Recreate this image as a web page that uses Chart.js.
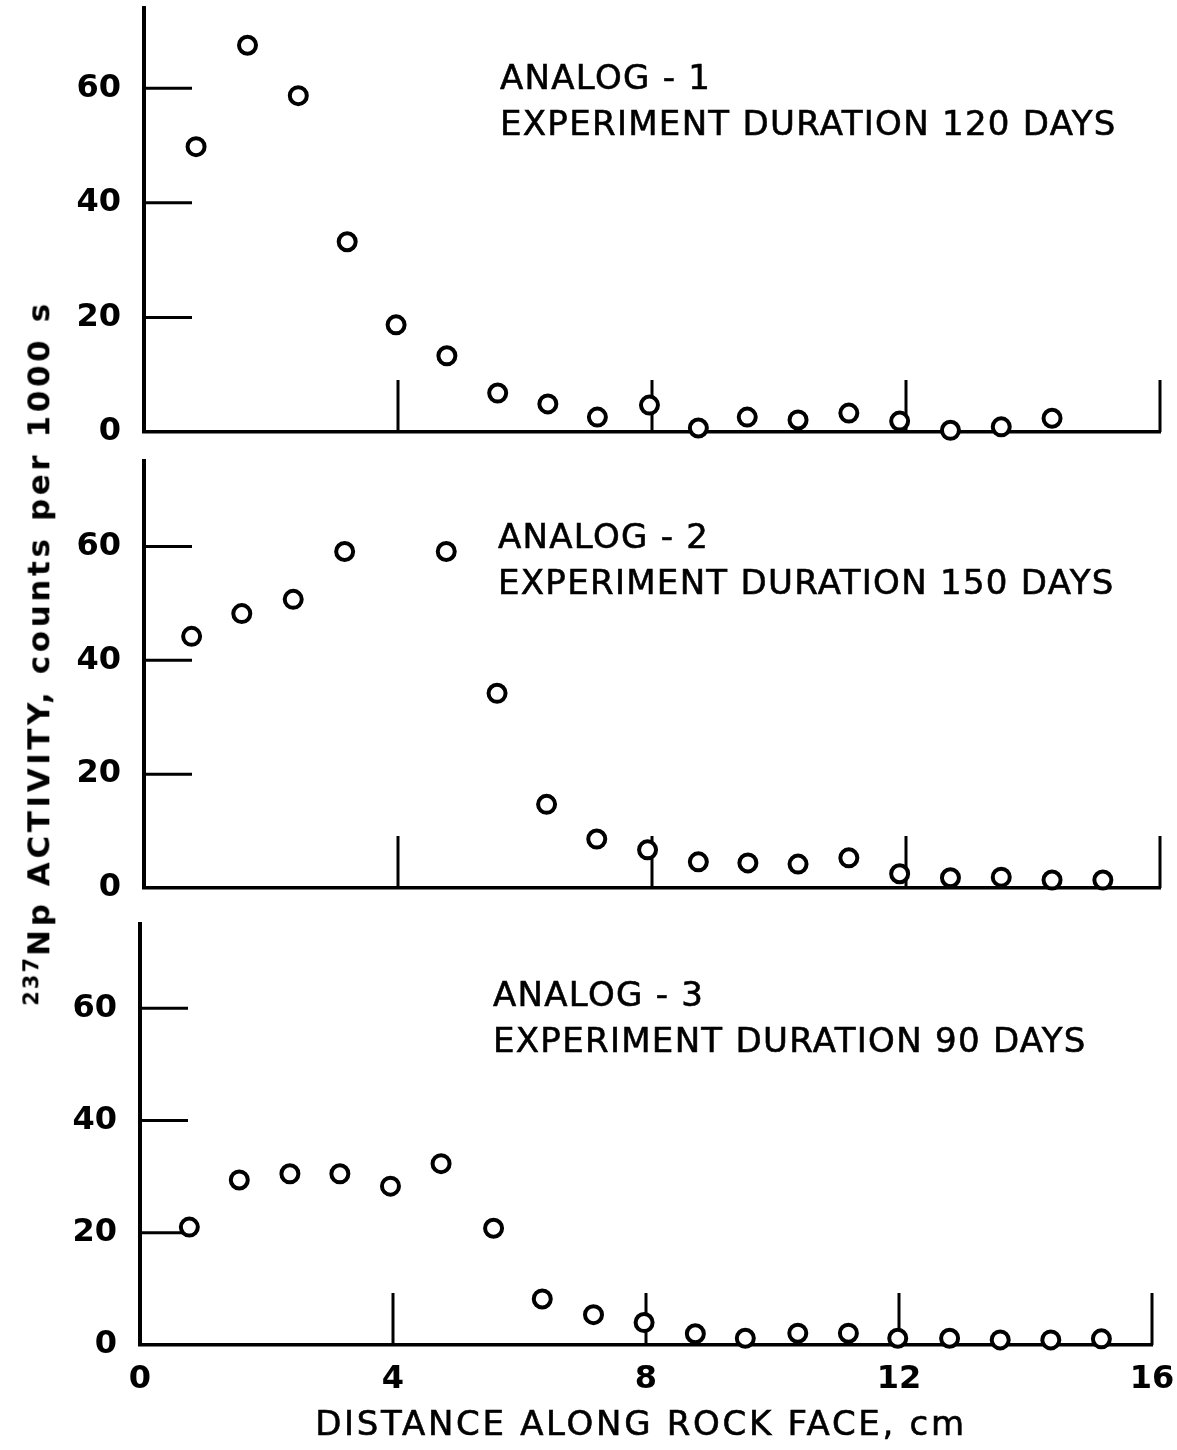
<!DOCTYPE html>
<html>
<head>
<meta charset="utf-8">
<script src="https://cdn.jsdelivr.net/npm/chart.js@4.4.0/dist/chart.umd.min.js"></script>
<style>
  body { margin: 0; background: #fff; }
  #wrap { position: relative; width: 1177px; height: 1450px; overflow: hidden; background: #fff; }
  canvas { position: absolute; left: 0; }
  .note { position: absolute; font-family: 'DejaVu Sans', sans-serif; font-size: 34px; line-height: 46px;
          letter-spacing: 1.3px; -webkit-text-stroke: 0.6px #000; color: #000; white-space: nowrap; }
  #ytitle { position: absolute; left: 38px; top: 653px; transform: translate(-50%, -50%) rotate(-90deg);
            font-family: 'DejaVu Sans', sans-serif; font-weight: bold; font-size: 31px; letter-spacing: 3.6px; white-space: nowrap; color: #000; }
  #ytitle sup { font-size: 21px; letter-spacing: 2px; }
  #xtitle { position: absolute; left: 641px; top: 1423px; transform: translate(-50%, -50%);
            font-family: 'DejaVu Sans', sans-serif; font-size: 34px; letter-spacing: 2.7px; -webkit-text-stroke: 0.6px #000;
            white-space: nowrap; color: #000; }
</style>
</head>
<body>
<div id="wrap">
  <canvas id="panel1" width="1177" height="530" style="top:-40px"></canvas>
  <canvas id="panel2" width="1177" height="540" style="top:410px"></canvas>
  <canvas id="panel3" width="1200" height="580" style="top:870px"></canvas>

  <div class="note" style="left:500px; top:54px">ANALOG - 1<br>EXPERIMENT DURATION 120 DAYS</div>
  <div class="note" style="left:498px; top:513px">ANALOG - 2<br>EXPERIMENT DURATION 150 DAYS</div>
  <div class="note" style="left:493px; top:971px">ANALOG - 3<br>EXPERIMENT DURATION 90 DAYS</div>

  <div id="ytitle"><sup>237</sup>Np ACTIVITY, counts per 1000 s</div>
  <div id="xtitle">DISTANCE ALONG ROCK FACE, cm</div>
</div>

<script>
// tick marks
const xTicks = [0, 4, 8, 12, 16];
const yTicks = [0, 20, 40, 60];

// Analog-1, 120 days
const distance1 = [0.82, 1.63, 2.43, 3.2, 3.97, 4.77, 5.57, 6.36, 7.14, 7.96, 8.73, 9.5, 10.3, 11.1, 11.9, 12.7, 13.5, 14.3];
const activity1 = [49.8, 67.5, 58.7, 33.2, 18.7, 13.3, 6.8, 4.9, 2.6, 4.7, 0.7, 2.6, 2.1, 3.3, 1.9, 0.3, 0.9, 2.4];

// Analog-2, 150 days
const distance2 = [0.75, 1.54, 2.35, 3.16, 4.76, 5.56, 6.34, 7.13, 7.93, 8.73, 9.51, 10.3, 11.1, 11.9, 12.7, 13.5, 14.3, 15.1];
const activity2 = [44.2, 48.2, 50.7, 59.1, 59.1, 34.2, 14.7, 8.6, 6.7, 4.6, 4.4, 4.2, 5.3, 2.5, 1.8, 1.9, 1.4, 1.4];

// Analog-3, 90 days
const distance3 = [0.78, 1.57, 2.37, 3.16, 3.96, 4.76, 5.59, 6.36, 7.17, 7.97, 8.78, 9.57, 10.4, 11.2, 11.98, 12.8, 13.6, 14.4, 15.2];
const activity3 = [21.0, 29.4, 30.5, 30.5, 28.3, 32.3, 20.8, 8.2, 5.4, 4.0, 2.0, 1.2, 2.1, 2.1, 1.2, 1.2, 0.9, 0.9, 1.1];

// short tick lines drawn inside the plot, like on the original figure
const inwardTicks = {
    id: 'inwardTicks',
    beforeDatasetsDraw(chart) {
        const { ctx, chartArea, scales } = chart;
        ctx.save();
        ctx.strokeStyle = '#000';
        ctx.lineWidth = 3;
        ctx.lineCap = 'butt';
        yTicks.forEach(v => {
            if (v === 0) return;
            const y = scales.y.getPixelForValue(v);
            ctx.beginPath();
            ctx.moveTo(chartArea.left, y);
            ctx.lineTo(chartArea.left + 48, y);
            ctx.stroke();
        });
        xTicks.forEach(v => {
            if (v === 0) return;
            const x = scales.x.getPixelForValue(v);
            ctx.beginPath();
            ctx.moveTo(x, chartArea.bottom);
            ctx.lineTo(x, chartArea.bottom - 52);
            ctx.stroke();
        });
        ctx.restore();
    }
};

function crearPanel(id, xs, ys, yMax, cfg) {
    const puntos = xs.map((x, i) => ({ x: x, y: ys[i] }));
    const ejeX = {
        type: 'linear',
        min: 0,
        max: 16,
        afterBuildTicks: s => { s.ticks = xTicks.map(v => ({ value: v })); },
        afterFit: s => { s.height = cfg.xHeight; },
        grid: { display: false, drawTicks: false },
        border: { display: true, color: '#000', width: 3.5 },
        ticks: {
            display: cfg.xLabels,
            color: '#000',
            padding: 15,
            maxRotation: 0,
            font: { family: 'DejaVu Sans', weight: 'bold', size: 32 }
        }
    };
    const ejeY = {
        type: 'linear',
        min: 0,
        max: yMax,
        afterBuildTicks: s => { s.ticks = yTicks.map(v => ({ value: v })); },
        afterFit: s => { s.width = cfg.yWidth; },
        grid: { display: false, drawTicks: false },
        border: { display: true, color: '#000', width: 4 },
        ticks: {
            color: '#000',
            padding: 23,
            font: { family: 'DejaVu Sans', weight: 'bold', size: 32 }
        }
    };
    return new Chart(document.getElementById(id), {
        type: 'scatter',
        data: {
            datasets: [{
                data: puntos,
                pointRadius: 8.5,
                pointHoverRadius: 8.5,
                pointBorderWidth: 4,
                pointBorderColor: '#000',
                pointBackgroundColor: '#fff',
                showLine: false,
                clip: false
            }]
        },
        options: {
            responsive: false,
            animation: false,
            devicePixelRatio: 1,
            layout: { padding: { top: cfg.top, right: cfg.right, left: 0, bottom: 0 } },
            plugins: { legend: { display: false }, tooltip: { enabled: false } },
            scales: { x: ejeX, y: ejeY }
        },
        plugins: [inwardTicks]
    });
}

crearPanel('panel1', distance1, activity1, 74, { top: 48, right: 17, yWidth: 144, xHeight: 58, xLabels: false });
crearPanel('panel2', distance2, activity2, 75, { top: 51, right: 17, yWidth: 144, xHeight: 62, xLabels: false });
crearPanel('panel3', distance3, activity3, 75, { top: 54, right: 48, yWidth: 140, xHeight: 105, xLabels: true });
</script>
</body>
</html>
